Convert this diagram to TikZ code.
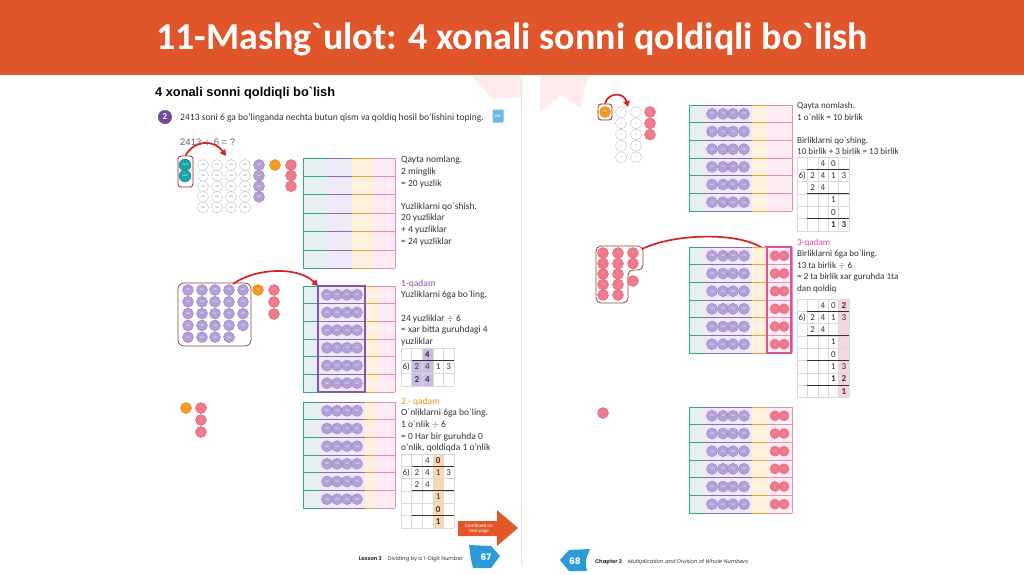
\documentclass[tikz,border=0pt]{standalone}
\usepackage{fontspec}
\setmainfont{Carlito}[Ligatures=TeXOff]
\newfontfamily\arialf{Liberation Sans}[Ligatures=TeXOff]
\newfontfamily\footf{Poppins}
\usetikzlibrary{arrows.meta}
\definecolor{barc}{HTML}{E1552B}
\definecolor{txt}{HTML}{333333}
\definecolor{pdf}{HTML}{B3A0D6}\definecolor{pdd}{HTML}{9580C4}
\definecolor{tdf}{HTML}{19A4A8}\definecolor{tdd}{HTML}{0F8A8E}
\definecolor{odf}{HTML}{F39B21}\definecolor{odd}{HTML}{E3800F}
\definecolor{kdf}{HTML}{F07A8C}\definecolor{kdd}{HTML}{DE5F73}
\definecolor{bgT}{HTML}{E5EFEF}\definecolor{bgP}{HTML}{EFEAF7}
\definecolor{bgO}{HTML}{FEF2DF}\definecolor{bgK}{HTML}{FCEDF4}
\definecolor{lnT}{HTML}{2EA88C}\definecolor{lnP}{HTML}{8C6BB8}
\definecolor{lnO}{HTML}{F2A23A}\definecolor{lnK}{HTML}{E38DB8}
\definecolor{boxP}{HTML}{7E58AE}\definecolor{boxK}{HTML}{E0509A}
\definecolor{arrc}{HTML}{D42222}
\definecolor{qa}{HTML}{8A55B8}\definecolor{qb}{HTML}{F08C1E}\definecolor{qc}{HTML}{E4479A}
\definecolor{shP}{HTML}{CBBCE3}\definecolor{shO}{HTML}{FAD7B0}\definecolor{shK}{HTML}{F7D3E3}
\definecolor{blueft}{HTML}{2A9AD8}
\newcommand\setg[5]{\def\gx{#1}\def\gy{#2}\def\gw{#3}\def\gh{#4}\def\gid{#5}}
\newcommand\dgrid[1]{%
  \foreach \c in {0,...,5} \draw[gridl] ({\gx+\c*\gw},\gy) -- ({\gx+\c*\gw},{\gy+#1*\gh});
  \foreach \r in {0,...,#1} \draw[gridl] (\gx,{\gy+\r*\gh}) -- ({\gx+5*\gw},{\gy+\r*\gh});}
\newcommand\cellfill[3]{\fill[#3] ({\gx+#1*\gw},{\gy+#2*\gh}) rectangle ({\gx+(#1+1)*\gw},{\gy+(#2+1)*\gh});}
\newcommand\cellt[3]{\node[dig] (\gid-#1-#2) at ({\gx+(#1+0.5)*\gw},{\gy+(#2+0.5)*\gh}) {#3};}
\newcommand\gbar[1]{\draw[gbarl] ({\gx+\gw},{\gy+#1*\gh}) -- ({\gx+5*\gw},{\gy+#1*\gh});}
\newcommand\pvchart[7]{% x0 xa xb xc x1 y0 rh
  \fill[bgT] (#1,#6) rectangle (#2,{#6+6*#7});
  \fill[bgP] (#2,#6) rectangle (#3,{#6+6*#7});
  \fill[bgO] (#3,#6) rectangle (#4,{#6+6*#7});
  \fill[bgK] (#4,#6) rectangle (#5,{#6+6*#7});
  \foreach \r in {0,...,6}{
    \draw[lnT,line width=0.9pt] (#1,{#6+\r*#7}) -- (#2,{#6+\r*#7});
    \draw[lnP,line width=0.9pt] (#2,{#6+\r*#7}) -- (#3,{#6+\r*#7});
    \draw[lnO,line width=0.9pt] (#3,{#6+\r*#7}) -- (#4,{#6+\r*#7});
    \draw[lnK,line width=0.9pt] (#4,{#6+\r*#7}) -- (#5,{#6+\r*#7});}
  \draw[lnT,line width=0.9pt] (#1,#6) -- (#1,{#6+6*#7});
  \draw[lnK,line width=0.9pt] (#5,#6) -- (#5,{#6+6*#7});}
\begin{document}
\begin{tikzpicture}[x=1pt,y=-1pt,
  disc/.style={circle,inner sep=0pt,minimum size=11pt,line width=0.4pt,font=\fontsize{2.6}{3}\selectfont,text=white},
  pd/.style={disc,fill=pdf,draw=pdd},
  td/.style={disc,fill=tdf,draw=tdd,minimum size=12pt},
  od/.style={disc,fill=odf,draw=odd},
  kd/.style={disc,fill=kdf,draw=kdd},
  dd/.style={disc,fill=white,draw=gray!70,dash pattern=on 0.9pt off 0.6pt,text=gray},
  body/.style={font=\fontsize{9.5}{11.6}\selectfont,align=left,anchor=north west,inner sep=0pt,text=txt},
  bodyr/.style={body,font=\fontsize{9.1}{11.5}\selectfont},
  dig/.style={font=\fontsize{9}{10}\selectfont,inner sep=0pt,text=txt},
  gridl/.style={draw=gray!30,line width=0.5pt},
  gbarl/.style={draw=txt,line width=0.9pt},
  redarrow/.style={draw=arrc,line width=1.7pt,-{Triangle[length=6pt,width=6.5pt]}},
  grpbox/.style={draw=arrc!80!black,line width=0.8pt,rounded corners=3pt,inner sep=0pt}]
\useasboundingbox (0,0) rectangle (1024,574);
\fill[white] (0,0) rectangle (1024,574);
% page decorations
\fill[red!8] (472,76) -- (521,76) -- (521,97) -- (492,99) -- cycle;
\fill[red!8] (540,76) -- (588,76) -- (580,108) -- (561,95) -- (540,112) -- cycle;
\draw[gray!20,line width=1pt] (521,78) -- (521,566);
% title bar
\fill[barc] (0,0) rectangle (1024,75);
\node[anchor=base,text=white,font=\fontsize{38}{40}\selectfont\bfseries,inner sep=0pt] (title) at (512,49) {11-Mashg`ulot: 4 xonali sonni qoldiqli bo`lish};
% ---------- left page ----------
\node[anchor=base west,inner sep=0pt,font=\arialf\fontsize{12.8}{14}\selectfont\bfseries,text=black] (head) at (155,96) {4 xonali sonni qoldiqli bo`lish};
\node[circle,fill=qa!85!black,inner sep=0pt,minimum size=14pt,text=white,font=\fontsize{9}{10}\selectfont\bfseries] (num2) at (165,117) {2};
\node[anchor=base west,inner sep=0pt,font=\fontsize{9.6}{10}\selectfont,text=txt] (task) at (180,120) {2413 soni 6 ga bo‘linganda nechta butun qism va qoldiq hosil bo‘lishini toping.};
\node[fill=blueft!70,text=white,inner sep=0pt,minimum width=11pt,minimum height=13pt,rounded corners=1pt,font=\fontsize{3.5}{4}\selectfont\bfseries] (pdficon) at (498,116) {PDF};
\node[anchor=base west,inner sep=0pt,font=\arialf\fontsize{9.5}{11}\selectfont,text=gray!80!black] (eq) at (180,145) {2413 $\div$ 6 = ?};
% group 1
\node[td] (t1) at (185,165) {1000};
\node[td] (t2) at (185,176) {1000};
\node[grpbox,minimum width=15pt,minimum height=31pt] (tbox) at (185.5,171.5) {};
\foreach \c/\x in {1/203,2/217,3/231,4/245}
  \foreach \r in {0,...,4}
    \node[dd] (dh-\c-\r) at (\x,{165+\r*10.6}) {100};
\foreach \r in {0,...,3} \node[pd] (p1-\r) at (259,{165+\r*10.6}) {100};
\node[od] (o1) at (275,165) {10};
\foreach \r in {0,...,2} \node[kd] (k1-\r) at (291,{165+\r*10.6}) {1};
\coordinate (a1e) at (226,156);
\draw[redarrow] (tbox.north) .. controls (194,140) and (214,139) .. (a1e);
% chart 1
\pvchart{303}{327}{352}{373}{395}{158}{18.4}
\node[body] (txt1) at (401,156) {Qayta nomlang.\\2 minglik\\= 20 yuzlik\\[11.6pt]Yuzliklarni qo`shish.\\20 yuzliklar\\+ 4 yuzliklar\\= 24 yuzliklar};
% group 2
\node[grpbox,draw=arrc!55!black!80,rounded corners=6pt,minimum width=73pt,minimum height=63pt] (g2box) at (214.5,314.5) {};
\foreach \c/\x in {1/188,2/202,3/215,4/229}
  \foreach \r in {0,...,4}
    \node[pd] (g2-\c-\r) at (\x,{290+\r*11.8}) {100};
\foreach \r in {0,...,3} \node[pd] (g2-5-\r) at (243,{290+\r*11.8}) {100};
\node[od] (o2) at (258,290) {10};
\foreach \r in {0,...,2} \node[kd] (k2-\r) at (274,{290+\r*12}) {1};
\coordinate (a2s) at (233,284);
\coordinate (a2e) at (318,286);
\draw[redarrow] (a2s) .. controls (255,268) and (298,266) .. (a2e);
% chart 2
\pvchart{303}{318}{365}{378}{395}{286}{17.67}
\foreach \r in {0,...,5}
  \foreach \c/\x in {1/327,2/337,3/347,4/357}
    \node[pd] (c2-\r-\c) at (\x,{286+8.83+\r*17.67}) {100};
\draw[boxP,line width=1.3pt] (318,286) rectangle (365,392);
\node[body] (txt2) at (401,279.5) {\textcolor{qa}{1-qadam}\\Yuzliklarni 6ga bo`ling.\\[11.6pt]24 yuzliklar $\div$ 6\\= xar bitta guruhdagi 4\\yuzliklar};
\setg{401}{348}{10.6}{12.6}{ga}
\cellfill{2}{0}{shP}\cellfill{1}{1}{shP}\cellfill{2}{1}{shP}\cellfill{1}{2}{shP}\cellfill{2}{2}{shP}
\dgrid{3}
\gbar{1}
\cellt{2}{0}{\textbf{4}}
\cellt{0}{1}{6)}\cellt{1}{1}{2}\cellt{2}{1}{4}\cellt{3}{1}{1}\cellt{4}{1}{3}
\cellt{1}{2}{\textbf{2}}\cellt{2}{2}{\textbf{4}}
% group 3
\node[od] (o3) at (186,408) {10};
\foreach \r in {0,...,2} \node[kd] (k3-\r) at (201,{408+\r*12}) {1};
% chart 3
\pvchart{303}{320}{365}{375}{395}{402}{17.67}
\foreach \r in {0,...,5}
  \foreach \c/\x in {1/327,2/337,3/347,4/357}
    \node[pd] (c3-\r-\c) at (\x,{402+8.83+\r*17.67}) {100};
\node[body] (txt3) at (401,397.5) {\textcolor{qb}{2 - qadam}\\O`nliklarni 6ga bo`ling.\\1 o`nlik $\div$ 6\\= 0 Har bir guruhda 0\\o’nlik, qoldiqda 1 o’nlik};
\setg{401}{454}{10.6}{12.3}{gb}
\foreach \r in {0,...,5} {\cellfill{3}{\r}{shO}}
\dgrid{6}
\gbar{1}\gbar{3}\gbar{5}
\cellt{2}{0}{4}\cellt{3}{0}{\textbf{0}}
\cellt{0}{1}{6)}\cellt{1}{1}{2}\cellt{2}{1}{4}\cellt{3}{1}{1}\cellt{4}{1}{3}
\cellt{1}{2}{2}\cellt{2}{2}{4}
\cellt{3}{3}{1}\cellt{3}{4}{\textbf{0}}\cellt{3}{5}{\textbf{1}}
% continued arrow
\fill[barc!95!orange] (458,521) -- (497,521) -- (497,510) -- (518,528) -- (497,546) -- (497,536) -- (458,536) -- cycle;
\node[text=white,align=center,font=\fontsize{5}{5.6}\selectfont,inner sep=0pt] (cont) at (479,528.5) {Continued on\\next page};
% footer left
\node[anchor=base east,inner sep=0pt,font=\footf\fontsize{5.3}{6}\selectfont,text=txt] (foot1) at (463,560) {\textbf{Lesson 3}\hspace{6pt}Dividing by a 1-Digit Number};
\fill[blueft] (469,545) -- (491,546) -- (500,556) -- (491,568) -- (473,568) .. controls (471,560) .. (469,545) -- cycle;
\node[text=white,font=\footf\fontsize{9}{10}\selectfont\bfseries,inner sep=0pt] (p67) at (486,557) {67};
% ---------- right page ----------
\node[od] (o4) at (605,112) {10};
\node[grpbox,minimum width=14pt,minimum height=16pt] (obox) at (605,112) {};
\foreach \c/\x in {1/621,2/636}
  \foreach \r in {0,...,4}
    \node[dd] (du-\c-\r) at (\x,{112+\r*11.3}) {1};
\foreach \r in {0,...,2} \node[kd] (k4-\r) at (650,{112+\r*11.3}) {1};
\coordinate (a3e) at (628,107);
\draw[redarrow] (obox.north) .. controls (608,92) and (624,92) .. (a3e);
\pvchart{689}{703}{752}{768}{792}{105}{17.67}
\foreach \r in {0,...,5}
  \foreach \c/\x in {1/712,2/723,3/733,4/744}
    \node[pd] (r1-\r-\c) at (\x,{105+8.83+\r*17.67}) {100};
\node[bodyr] (txt4) at (797,102) {Qayta nomlash.\\1 o`nlik = 10 birlik\\[11.5pt]Birliklarni qo`shing.\\10 birlik + 3 birlik = 13 birlik};
\setg{797}{157}{10.4}{12.3}{gc}
\dgrid{6}
\gbar{1}\gbar{3}\gbar{5}
\cellt{2}{0}{4}\cellt{3}{0}{0}
\cellt{0}{1}{6)}\cellt{1}{1}{2}\cellt{2}{1}{4}\cellt{3}{1}{1}\cellt{4}{1}{3}
\cellt{1}{2}{2}\cellt{2}{2}{4}
\cellt{3}{3}{1}\cellt{3}{4}{0}\cellt{3}{5}{\textbf{1}}\cellt{4}{5}{\textbf{3}}
% right group 2
\draw[grpbox,draw=arrc!55!black!80,rounded corners=5pt] (596,246) -- (643,246) -- (643,270) -- (628,270) -- (628,303) -- (596,303) -- cycle;
\foreach \c/\x in {1/603,2/618}
  \foreach \r in {0,...,4}
    \node[kd] (g4-\c-\r) at (\x,{253+\r*10.5}) {1};
\node[kd] (g4-3-0) at (633,253) {1};
\node[kd] (g4-3-1) at (633,263.5) {1};
\node[kd] (g4-3-x) at (633,281) {1};
\coordinate (a4s) at (642,249);
\coordinate (a4e) at (768,252);
\draw[redarrow] (a4s) .. controls (675,233) and (740,232) .. (a4e);
\pvchart{689}{703}{752}{768}{792}{247}{17.67}
\foreach \r in {0,...,5}{
  \foreach \c/\x in {1/712,2/723,3/733,4/744}
    \node[pd] (r2-\r-\c) at (\x,{247+8.83+\r*17.67}) {100};
  \node[kd,minimum size=10pt] (r2k-\r-1) at (775,{247+8.83+\r*17.67}) {1};
  \node[kd,minimum size=10pt] (r2k-\r-2) at (784,{247+8.83+\r*17.67}) {1};}
\draw[boxK,line width=1.1pt] (767,247) rectangle (791,353);
\node[bodyr] (txt5) at (797,238.5) {\textcolor{qc}{3-qadam}\\Birliklarni 6ga bo`ling.\\13 ta birlik $\div$ 6\\= 2 ta birlik xar guruhda 1ta\\dan qoldiq};
\setg{797}{299}{10.4}{12.3}{gd}
\foreach \r in {0,...,7} {\cellfill{4}{\r}{shK}}
\dgrid{8}
\gbar{1}\gbar{3}\gbar{5}\gbar{7}
\cellt{2}{0}{4}\cellt{3}{0}{0}\cellt{4}{0}{\textbf{2}}
\cellt{0}{1}{6)}\cellt{1}{1}{2}\cellt{2}{1}{4}\cellt{3}{1}{1}\cellt{4}{1}{3}
\cellt{1}{2}{2}\cellt{2}{2}{4}
\cellt{3}{3}{1}\cellt{3}{4}{0}
\cellt{3}{5}{1}\cellt{4}{5}{3}
\cellt{3}{6}{\textbf{1}}\cellt{4}{6}{\textbf{2}}
\cellt{4}{7}{\textbf{1}}
% single disc and chart 3
\node[kd] (k5) at (603,413) {1};
\pvchart{689}{703}{752}{768}{792}{407}{17.67}
\foreach \r in {0,...,5}{
  \foreach \c/\x in {1/712,2/723,3/733,4/744}
    \node[pd] (r3-\r-\c) at (\x,{407+8.83+\r*17.67}) {100};
  \node[kd,minimum size=10pt] (r3k-\r-1) at (775,{407+8.83+\r*17.67}) {1};
  \node[kd,minimum size=10pt] (r3k-\r-2) at (784,{407+8.83+\r*17.67}) {1};}
% footer right
\fill[blueft] (590,549) -- (569,550) -- (560,560) -- (569,571) -- (587,571) .. controls (585,561) .. (590,549) -- cycle;
\node[text=white,font=\footf\fontsize{9}{10}\selectfont\bfseries,inner sep=0pt] (p68) at (575,561) {68};
\node[anchor=base west,inner sep=0pt,font=\footf\fontsize{5.3}{6}\selectfont,text=txt] (foot2) at (595,563) {\textbf{Chapter 3}\hspace{6pt}\textit{Multiplication and Division of Whole Numbers}};
\end{tikzpicture}
\end{document}
